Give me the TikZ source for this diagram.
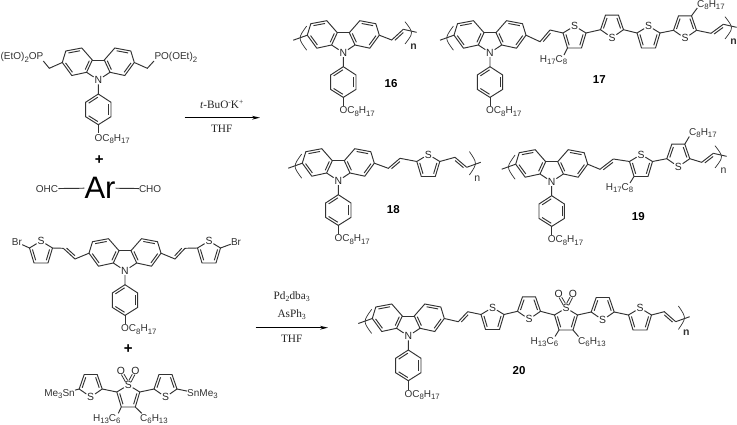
\documentclass[tikz,border=0pt]{standalone}
\usepackage{fontspec}
\setmainfont{Liberation Sans}
\newfontfamily\rxfont{Liberation Serif}
\usetikzlibrary{calc,arrows.meta}
\tikzset{
  bond/.style={line width=.95pt,draw=black!80,line join=miter},
  atom/.style={inner sep=.7pt,font=\fontsize{10.4}{10}\selectfont,text=black!85},
  lbl/.style={inner sep=0pt,font=\fontsize{10}{10}\selectfont,text=black!80},
  cpd/.style={inner sep=0pt,font=\fontsize{11.5}{12}\bfseries\selectfont},
  cond/.style={inner sep=0pt,font=\rxfont\fontsize{11.3}{12}\selectfont,text=black!85},
  rxn/.style={line width=1pt,-{Stealth[length=8pt,width=3.8pt]}},
}
\newcommand\chs[1]{\raisebox{-2.2pt}{\fontsize{7.8}{8}\selectfont #1}}
\newcommand\chu[1]{\raisebox{4pt}{\fontsize{7.5}{8}\selectfont #1}}
\newcommand\dbl[2]{\draw[bond] ($(#1)!.14!(#2)!2.4pt!90:(#2)$) -- ($(#1)!.86!(#2)!2.4pt!90:(#2)$);}
% thiophene, S on top
\newcommand\thU[3]{\begin{scope}[shift={(#2,#3)}]
  \node[atom] (#1-S) at (0,0) {S};
  \coordinate (#1-a) at (-11.5,7); \coordinate (#1-b) at (-7,22);
  \coordinate (#1-c) at (7,22); \coordinate (#1-d) at (11.5,7);
  \end{scope}
  \draw[bond] (#1-S) -- (#1-a) -- (#1-b) -- (#1-c) -- (#1-d) -- (#1-S);
  \dbl{#1-a}{#1-b}\dbl{#1-c}{#1-d}}
% thiophene, S at the bottom
\newcommand\thD[3]{\begin{scope}[shift={(#2,#3)}]
  \node[atom] (#1-S) at (0,0) {S};
  \coordinate (#1-a) at (-11.5,-8); \coordinate (#1-b) at (-6.5,-22.5);
  \coordinate (#1-c) at (6.5,-22.5); \coordinate (#1-d) at (11.5,-8);
  \end{scope}
  \draw[bond] (#1-S) -- (#1-a) -- (#1-b) -- (#1-c) -- (#1-d) -- (#1-S);
  \dbl{#1-b}{#1-a}\dbl{#1-d}{#1-c}}
% thiophene dioxide
\newcommand\thO[3]{\thU{#1}{#2}{#3}
  \begin{scope}[shift={(#2,#3)}]
  \node[atom] (#1-O1) at (-7.3,-14) {O};
  \node[atom] (#1-O2) at (7,-14) {O};
  \end{scope}
  \draw[bond,line width=.8pt] ($(#1-S)+(-2.8,-3)$) -- ($(#1-O1)+(.4,3.6)$);
  \draw[bond,line width=.8pt] ($(#1-S)+(-.6,-4.6)$) -- ($(#1-O1)+(3,3.2)$);
  \draw[bond,line width=.8pt] ($(#1-S)+(2.8,-3)$) -- ($(#1-O2)+(-.4,3.6)$);
  \draw[bond,line width=.8pt] ($(#1-S)+(.6,-4.6)$) -- ($(#1-O2)+(-3,3.2)$);}
% N-aryl carbazole
\newcommand\carb[3]{\begin{scope}[shift={(#2,#3)}]
  \node[atom] (#1-N) at (0,0) {N};
  \coordinate (#1-j) at (-11.7,-7.7); \coordinate (#1-t) at (-6,-20);
  \coordinate (#1-u) at (-16.5,-32); \coordinate (#1-v) at (-32.5,-29);
  \coordinate (#1-l) at (-36,-17.5); \coordinate (#1-w) at (-26.5,-4.5);
  \coordinate (#1-J) at (11.7,-7.7); \coordinate (#1-T) at (6,-20);
  \coordinate (#1-U) at (16.5,-32); \coordinate (#1-V) at (32.5,-29);
  \coordinate (#1-r) at (36,-17.5); \coordinate (#1-W) at (26.5,-4.5);
  \coordinate (#1-p1) at (0,14); \coordinate (#1-p2) at (-12.7,22.3);
  \coordinate (#1-p3) at (-12.7,36.7); \coordinate (#1-p4) at (0,44.7);
  \coordinate (#1-p5) at (12.7,36.7); \coordinate (#1-p6) at (12.7,22.3);
  \coordinate (#1-o) at (0,53.5);
  \node[lbl,anchor=west] (#1-R) at (-4,58.8) {OC\chs{8}H\chs{17}};
  \end{scope}
  \draw[bond] (#1-N) -- (#1-j) -- (#1-t) -- (#1-u) -- (#1-v) -- (#1-l) -- (#1-w) -- (#1-j);
  \draw[bond] (#1-N) -- (#1-J) -- (#1-T) -- (#1-U) -- (#1-V) -- (#1-r) -- (#1-W) -- (#1-J);
  \draw[bond] (#1-t) -- (#1-T);
  \dbl{#1-u}{#1-v}\dbl{#1-l}{#1-w}\dbl{#1-j}{#1-t}
  \dbl{#1-V}{#1-U}\dbl{#1-W}{#1-r}\dbl{#1-T}{#1-J}
  \draw[bond] (#1-N) -- (#1-p1) -- (#1-p2) -- (#1-p3) -- (#1-p4) -- (#1-p5) -- (#1-p6) -- (#1-p1);
  \draw[bond] (#1-p4) -- (#1-o);
  \dbl{#1-p1}{#1-p2}\dbl{#1-p3}{#1-p4}\dbl{#1-p5}{#1-p6}}
% left polymer cap
\newcommand\lcap[1]{\begin{scope}[shift={(#1-l)}]
  \coordinate (#1-ls) at (-14,5);
  \draw[bond,line width=.7pt] (-.6,-9.2) .. controls (-9.4,3) .. (-.6,15);
  \end{scope}
  \draw[bond] (#1-l) -- (#1-ls);}
% vinylene: from, v1, v2 to
\newcommand\vin[3]{\draw[bond] (#1) -- (#2) -- (#3); \dbl{#2}{#3}}
\newcommand\vinr[3]{\draw[bond] (#1) -- (#2) -- (#3); \dbl{#3}{#2}}
% right polymer caps: after a rising and after a falling vinylene
\newcommand\rcapU[3]{\begin{scope}[shift={(#1)}]
  \coordinate (#2-s) at (13.3,3);
  \draw[bond,line width=.7pt] (1.7,-7.6) .. controls (10.3,3.5) .. (1.7,14.7);
  \node[lbl,font=\fontsize{10.5}{10}#3\selectfont] (#2-n) at (10.3,17.4) {n};
  \end{scope}
  \draw[bond] (#1) -- (#2-s);}
\newcommand\rcapD[3]{\begin{scope}[shift={(#1)}]
  \coordinate (#2-s) at (14,-5);
  \draw[bond,line width=.7pt] (2.7,-15.7) .. controls (10.7,-4) .. (2.7,7.7);
  \node[lbl,font=\fontsize{10.5}{10}#3\selectfont] (#2-n) at (10.7,11) {n};
  \end{scope}
  \draw[bond] (#1) -- (#2-s);}
\begin{document}
\begin{tikzpicture}[x=1pt,y=-1pt]
\useasboundingbox (0,0) rectangle (737,425);
\fill[white] (0,0) rectangle (737,425);

% ---------- top-left monomer
\carb{m1}{98.3}{80}
\coordinate (m1a) at (49.3,68.3); \coordinate (m1b) at (147.3,68.3);
\node[lbl,anchor=east] (m1P) at (43.5,57.3) {(EtO)\chs{2}OP};
\node[lbl,anchor=west] (m1Q) at (154.3,57.3) {PO(OEt)\chs{2}};
\draw[bond] (m1-l) -- (m1a) -- (43.3,61);
\draw[bond] (m1-r) -- (m1b) -- (154,61);
\node[inner sep=0pt,font=\fontsize{15}{15}\bfseries\selectfont] (plus1) at (99.3,160) {+};
\node[lbl,anchor=east] (ohc) at (58.3,188.7) {OHC};
\node[lbl,anchor=west] (cho) at (138.8,188.7) {CHO};
\node[inner sep=0pt,font=\fontsize{31}{31}\selectfont] (ar) at (100,188) {Ar};
\draw[bond] (ohc) -- (ar);
\draw[bond] (ar) -- (cho);

% ---------- lower-left monomer
\carb{m2}{125}{270.7}
\thU{m2a}{41}{241}
\thU{m2b}{209}{241}
\node[lbl,anchor=center] (m2Br1) at (17,242.3) {Br};
\node[lbl,anchor=center] (m2Br2) at (236,242.3) {Br};
\draw[bond] (m2Br1) -- (m2a-a);
\draw[bond] (m2Br2) -- (m2b-d);
\coordinate (m2v1) at (75,259); \coordinate (m2v2) at (63.3,248.3);
\coordinate (m2w1) at (175,259); \coordinate (m2w2) at (185,248.3);
\vinr{m2-l}{m2v1}{m2v2}
\draw[bond] (m2v2) -- (m2a-d);
\vin{m2-r}{m2w1}{m2w2}
\draw[bond] (m2w2) -- (m2b-a);
\node[inner sep=0pt,font=\fontsize{15}{15}\bfseries\selectfont] (plus2) at (128.3,349) {+};
\thO{m3c}{128.3}{385}
\thD{m3a}{90.7}{397}
\thD{m3b}{165.5}{397}
\draw[bond] (m3a-d) -- (m3c-a);
\draw[bond] (m3c-d) -- (m3b-a);
\node[lbl,anchor=east] (m3L) at (75,394.3) {Me\chs{3}Sn};
\node[lbl,anchor=west] (m3R) at (187,394.3) {SnMe\chs{3}};
\draw[bond] (m3L) -- (m3a-a);
\draw[bond] (m3R) -- (m3b-d);
\node[lbl,anchor=east] (m3H) at (120.7,419.3) {H\chs{13}C\chs{6}};
\node[lbl,anchor=west] (m3K) at (140,419.3) {C\chs{6}H\chs{13}};
\draw[bond] (m3c-b) -- (118.3,413.3);
\draw[bond] (m3c-c) -- (141.7,413.3);

% ---------- arrows
\coordinate (a1s) at (184.5,117.7); \coordinate (a1e) at (260,117.7);
\draw[rxn] (a1s) -- (a1e);
\node[cond] (a1t) at (221.7,104) {\textit{t}-BuO\chu{-}K\chu{+}};
\node[cond] (a1b) at (221.7,128.5) {THF};
\coordinate (a2s) at (255.5,327.7); \coordinate (a2e) at (328,327.7);
\draw[rxn] (a2s) -- (a2e);
\node[cond] (a2t) at (291.7,296.7) {Pd\chs{2}dba\chs{3}};
\node[cond] (a2m) at (291.7,314.5) {AsPh\chs{3}};
\node[cond] (a2b) at (291.7,339) {THF};

% ---------- 16
\carb{p16}{343.3}{52.7}
\lcap{p16}
\coordinate (p16v1) at (391.7,40); \coordinate (p16v2) at (403.3,29.3);
\vinr{p16-r}{p16v1}{p16v2}
\rcapU{p16v2}{p16c}{\bfseries}
\node[cpd] (c16) at (391,83.3) {16};

% ---------- 17
\carb{p17}{490}{52.7}
\lcap{p17}
\coordinate (p17v1) at (540,41.7); \coordinate (p17v2) at (550,30);
\vinr{p17-r}{p17v1}{p17v2}
\thU{t1}{574.5}{26}
\thD{t2}{612}{37.7}
\thU{t3}{648.5}{26}
\thD{t4}{685}{38.3}
\draw[bond] (p17v2) -- (t1-a);
\draw[bond] (t1-d) -- (t2-a);
\draw[bond] (t2-d) -- (t3-a);
\draw[bond] (t3-d) -- (t4-a);
\coordinate (p17w1) at (711,33.3); \coordinate (p17w2) at (723.3,24.3);
\vinr{t4-d}{p17w1}{p17w2}
\rcapU{p17w2}{p17c}{\bfseries}
\node[lbl,anchor=east] (p17H) at (567.5,60) {H\chs{17}C\chs{8}};
\node[lbl,anchor=west] (p17K) at (697,5) {C\chs{8}H\chs{17}};
\draw[bond] (t1-b) -- (564,55);
\draw[bond] (t4-c) -- (697.3,8);
\node[cpd] (c17) at (599.3,80) {17};

% ---------- 18
\carb{p18}{338.3}{180.7}
\lcap{p18}
\coordinate (p18v1) at (388.3,168.3); \coordinate (p18v2) at (400,158.3);
\vinr{p18-r}{p18v1}{p18v2}
\thU{t5}{428.3}{154.5}
\draw[bond] (p18v2) -- (t5-a);
\coordinate (p18w1) at (455,157.3); \coordinate (p18w2) at (466.7,167.3);
\draw[bond] (t5-d) -- (p18w1) -- (p18w2); \dbl{p18w2}{p18w1}
\rcapD{p18w2}{p18c}{}
\node[cpd] (c18) at (393.3,210) {18};

% ---------- 19
\carb{p19}{551.7}{181.7}
\lcap{p19}
\coordinate (p19v1) at (600,169.3); \coordinate (p19v2) at (613.3,159);
\vinr{p19-r}{p19v1}{p19v2}
\thU{t6}{641}{154.5}
\thD{t7}{678.3}{166.7}
\draw[bond] (p19v2) -- (t6-a);
\draw[bond] (t6-d) -- (t7-a);
\coordinate (p19w1) at (701.7,162.3); \coordinate (p19w2) at (713.3,153.3);
\vinr{t7-d}{p19w1}{p19w2}
\rcapU{p19w2}{p19c}{}
\node[lbl,anchor=east] (p19H) at (633.5,188.3) {H\chs{17}C\chs{8}};
\node[lbl,anchor=west] (p19K) at (689,133.3) {C\chs{8}H\chs{17}};
\draw[bond] (t6-b) -- (630,183);
\draw[bond] (t7-c) -- (689.3,136.5);
\node[cpd] (c19) at (638.3,216.7) {19};

% ---------- 20
\carb{p20}{408.3}{336}
\lcap{p20}
\coordinate (p20v1) at (458.3,321.7); \coordinate (p20v2) at (467.7,311.7);
\vinr{p20-r}{p20v1}{p20v2}
\thU{t8}{492.5}{307.5}
\thD{t9}{529}{319.3}
\thO{t10}{566}{308}
\thD{t11}{602.7}{320}
\thU{t12}{640}{308}
\draw[bond] (p20v2) -- (t8-a);
\draw[bond] (t8-d) -- (t9-a);
\draw[bond] (t9-d) -- (t10-a);
\draw[bond] (t10-d) -- (t11-a);
\draw[bond] (t11-d) -- (t12-a);
\coordinate (p20w1) at (664.3,311.7); \coordinate (p20w2) at (675.7,321.7);
\draw[bond] (t12-d) -- (p20w1) -- (p20w2); \dbl{p20w2}{p20w1}
\rcapD{p20w2}{p20c}{\bfseries}
\node[lbl,anchor=east] (p20H) at (558.3,341.7) {H\chs{13}C\chs{6}};
\node[lbl,anchor=west] (p20K) at (578,341.7) {C\chs{6}H\chs{13}};
\draw[bond] (t10-b) -- (555,336.5);
\draw[bond] (t10-c) -- (578.5,336.5);
\node[cpd] (c20) at (519,371) {20};
\end{tikzpicture}
\end{document}
